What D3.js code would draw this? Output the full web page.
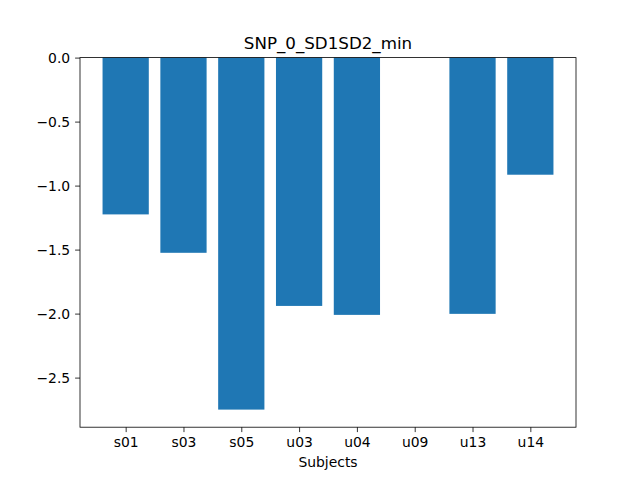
<!DOCTYPE html>
<html>
<head>
<meta charset="utf-8">
<script src="https://cdn.jsdelivr.net/npm/d3@7"></script>
<style>
  body { margin: 0; background: #fff; }
  svg text { font-family: "DejaVu Sans", sans-serif; fill: #000; }
</style>
</head>
<body>
<div id="chart"></div>
<script>
const width = 640;
const height = 480;

const subjects = ["s01", "s03", "s05", "u03", "u04", "u09", "u13", "u14"];
const values = [-1.225, -1.525, -2.750, -1.940, -2.010, 0, -2.002, -0.915];
const yTicks = [0, -0.5, -1.0, -1.5, -2.0, -2.5];

const margin = { top: 57.6, right: 64, bottom: 52.8, left: 80 };
const innerW = width - margin.left - margin.right;
const innerH = height - margin.top - margin.bottom;

const svg = d3.select("#chart")
    .append("svg")
    .attr("width", width)
    .attr("height", height);

const g = svg.append("g")
    .attr("transform", `translate(${margin.left},${margin.top})`);

// matplotlib style limits: bars of width 0.8, 5% margin
const n = subjects.length;
const xSpan = (n - 1) + 0.8;
const x = d3.scaleLinear()
    .domain([-0.4 - xSpan * 0.05, n - 1 + 0.4 + xSpan * 0.05])
    .range([0, innerW]);

const yMin = d3.min(values);
const y = d3.scaleLinear()
    .domain([yMin + yMin * 0.05, 0])
    .range([innerH, 0]);

g.selectAll(".bar")
    .data(values)
    .enter()
    .append("rect")
    .attr("class", "bar")
    .attr("x", (d, i) => x(i - 0.4))
    .attr("width", (d, i) => x(i + 0.4) - x(i - 0.4))
    .attr("y", d => y(Math.max(0, d)))
    .attr("height", d => Math.abs(y(d) - y(0)))
    .attr("fill", "#1f77b4");

const fmt = d => d === 0 ? "0.0" : d3.format(".1f")(d).replace("-", "\u2212");

const yAxis = g.append("g")
    .call(d3.axisLeft(y).tickValues(yTicks).tickFormat(fmt).tickSize(4.9).tickPadding(4.9));

const xAxis = g.append("g")
    .attr("transform", `translate(0,${innerH})`)
    .call(d3.axisBottom(x).tickValues(d3.range(n)).tickFormat(i => subjects[i]).tickSize(4.9).tickPadding(4.9));

[yAxis, xAxis].forEach(a => {
    a.select(".domain").remove();
    a.selectAll("line").attr("stroke", "#000").attr("stroke-width", 0.8);
    a.selectAll("text").style("font-size", "13.9px").attr("fill", "#000");
});

// frame
g.append("rect")
    .attr("width", innerW)
    .attr("height", innerH)
    .attr("fill", "none")
    .attr("stroke", "#000")
    .attr("stroke-width", 0.8);

svg.append("text")
    .attr("x", margin.left + innerW / 2)
    .attr("y", margin.top - 8.3)
    .attr("text-anchor", "middle")
    .style("font-size", "16.7px")
    .text("SNP_0_SD1SD2_min");

svg.append("text")
    .attr("x", margin.left + innerW / 2)
    .attr("y", 467)
    .attr("text-anchor", "middle")
    .style("font-size", "13.9px")
    .text("Subjects");
</script>
</body>
</html>
